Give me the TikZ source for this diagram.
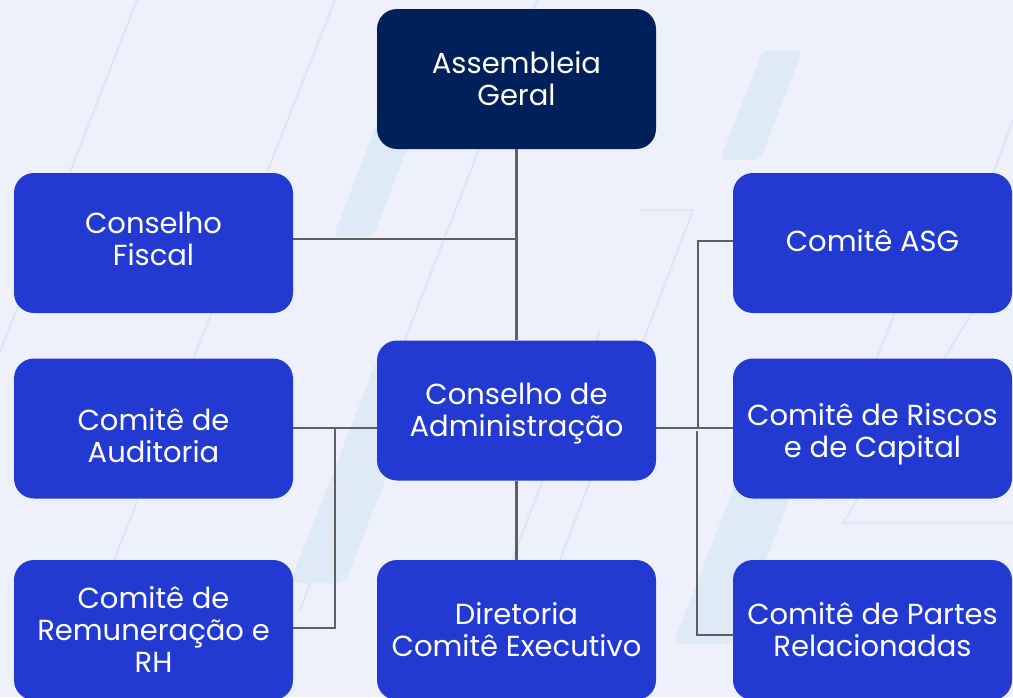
\documentclass[tikz,border=0pt]{standalone}
\usepackage{fontspec}
\setmainfont{Poppins}
\definecolor{bgc}{HTML}{EEF0FB}
\definecolor{boxblue}{HTML}{233AD2}
\definecolor{navy}{HTML}{00205B}
\definecolor{linec}{HTML}{5F5F5F}
\definecolor{wmline}{HTML}{E1E5F8}
\definecolor{wmband}{HTML}{DFEAF8}
\newcommand\bxln[1]{\strut#1}
\tikzset{
  orgbox/.style={rectangle, rounded corners=20pt, minimum width=279pt, minimum height=140pt,
    inner sep=0pt, fill=boxblue},
  topbox/.style={orgbox, fill=navy},
  boxtext/.style={inner sep=0pt, text=white, align=center,
    font=\fontsize{29}{32}\selectfont},
  conn/.style={draw=linec, line width=2.6pt},
  wml/.style={draw=wmline, line width=2pt},
  wmb/.style={fill=wmband, rounded corners=8pt}
}
\begin{document}
\begin{tikzpicture}[x=1pt,y=-1pt]
\fill[bgc] (0,0) rectangle (1013,697);
\useasboundingbox (0,0) rectangle (1013,697);
% watermark
\fill[wmb] (386,100) -- (426,100) -- (373,237) -- (333,237) -- cycle;
\fill[wmb] (377,360) -- (432,360) -- (345,583) -- (290,583) -- cycle;
\fill[wmb] (737,480) -- (797,480) -- (733,644) -- (673,644) -- cycle;
\fill[wmb] (763,50) -- (803,50) -- (760,160) -- (720,160) -- cycle;
\draw[wml] (137,0) -- (0,352);
\draw[wml] (335,0) -- (60,697);
\draw[wml] (537,0) -- (300,610);
\draw[wml] (640,210) -- (693,210) -- (560,560);
\draw[wml] (600,330) -- (460,697);
\draw[wml] (900,300) -- (820,500);
\draw[wml] (980,300) -- (843,523) -- (1013,523);
\draw[wml] (1013,120) -- (950,290);
% boxes
\node[topbox] (ag) at (516.5,79) {};
\node[orgbox] (cf) at (153.5,243) {};
\node[orgbox] (ca) at (516.5,410.5) {};
\node[orgbox] (aud) at (153.5,428.5) {};
\node[orgbox] (rem) at (153.5,630) {};
\node[orgbox] (dir) at (516.5,630) {};
\node[orgbox] (asg) at (872.5,243) {};
\node[orgbox] (ris) at (872.5,428.5) {};
\node[orgbox] (par) at (872.5,630) {};
% texts
\node[boxtext] (agt) at ([yshift=-4.5pt]ag.center) {\bxln{Assembleia}\\\bxln{Geral}};
\node[boxtext] (cft) at ([yshift=0pt]cf.center) {\bxln{Conselho}\\\bxln{Fiscal}};
\node[boxtext] (cat) at ([yshift=-4pt]ca.center) {\bxln{Conselho de}\\\bxln{Administração}};
\node[boxtext] (audt) at ([yshift=-12pt]aud.center) {\bxln{Comitê de}\\\bxln{Auditoria}};
\node[boxtext] (remt) at ([yshift=-4pt]rem.center) {\bxln{Comitê de}\\\bxln{Remuneração e}\\\bxln{RH}};
\node[boxtext] (dirt) at ([yshift=-4pt]dir.center) {\bxln{Diretoria}\\\bxln{Comitê Executivo}};
\node[boxtext] (asgt) at ([yshift=-2pt]asg.center) {\bxln{Comitê ASG}};
\node[boxtext] (rist) at ([yshift=-7pt]ris.center) {\bxln{Comitê de Riscos}\\\bxln{e de Capital}};
\node[boxtext] (part) at ([yshift=-4pt]par.center) {\bxln{Comitê de Partes}\\\bxln{Relacionadas}};
% junction coordinates
\coordinate (jf) at (516.5,239);
\coordinate (jl) at (335,428);
\coordinate (jlb) at (335,628);
\coordinate (jr) at (698,428);
\coordinate (jrt) at (698,241);
\coordinate (jr2) at (697,431);
\coordinate (jrb) at (697,635);
% connectors
\draw[conn] (ag.south) -- (ca.north);
\draw[conn] (cf.east |- jf) -- (jf);
\draw[conn] (ca.south) -- (dir.north);
\draw[conn] (ca.west |- jl) -- (aud.east |- jl);
\draw[conn] (jl) -- (jlb) -- (rem.east |- jlb);
\draw[conn] (ca.east |- jr) -- (ris.west |- jr);
\draw[conn] (jr) -- (jrt) -- (asg.west |- jrt);
\draw[conn] (jr2) -- (jrb) -- (par.west |- jrb);
\end{tikzpicture}
\end{document}
